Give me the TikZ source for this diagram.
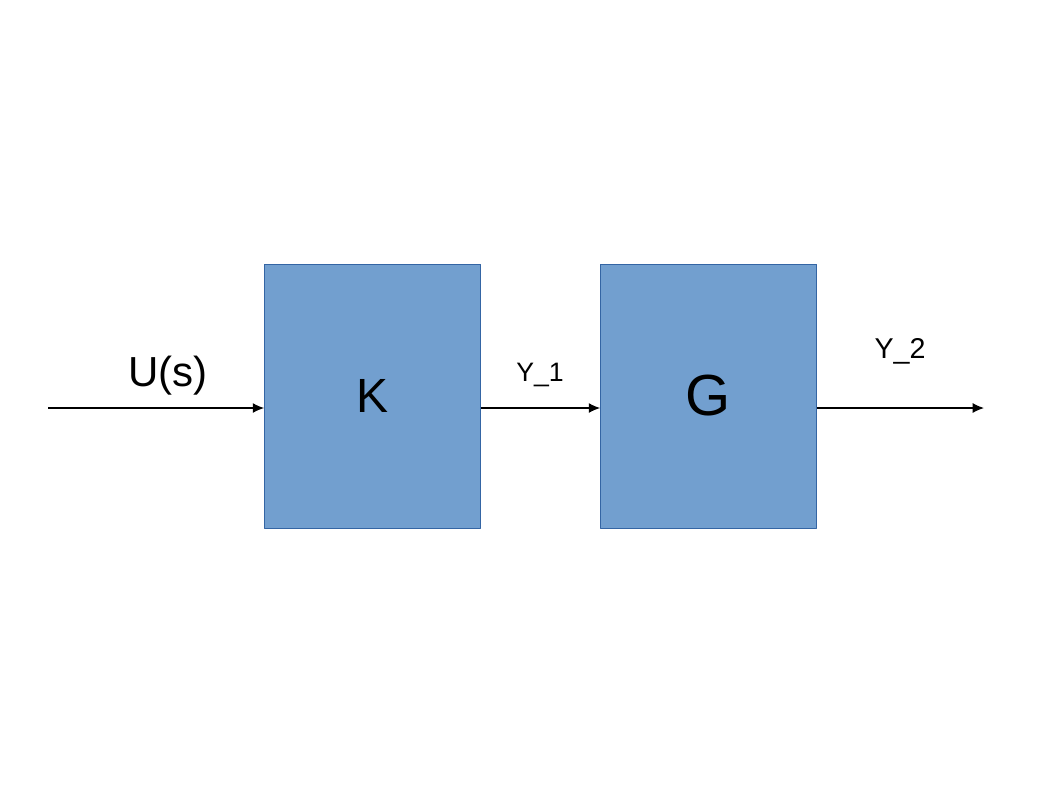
\documentclass[tikz,border=0pt]{standalone}
\usepackage{fontspec}
\usetikzlibrary{arrows.meta}
\setmainfont{Liberation Sans}
\definecolor{blockfill}{HTML}{729FCF}
\definecolor{blockline}{HTML}{3465A4}
\begin{document}
\begin{tikzpicture}[x=0.75pt, y=-0.75pt, line join=round, >={Latex[length=8.5pt,width=7.5pt]},
  block/.style={draw=blockline, fill=blockfill, line width=0.6pt, minimum width=162pt, minimum height=198pt, inner sep=0pt},
  sig/.style={->, line width=0.9pt}]
\useasboundingbox (0,0) rectangle (1058,794);
			\node[block, font=\fontsize{36}{40}\selectfont] (K) at (372.5,396) {K};
			\node[block, font=\fontsize{43.5}{48}\selectfont] (G) at (708.5,396) {G};
			\coordinate (in) at (48,408);
			\coordinate (out) at (984,408);
			\draw[sig] (in) -- (K.west |- in);
			\draw[sig] (K.east |- in) -- (G.west |- in);
			\draw[sig] (G.east |- in) -- (out);
			\node[font=\fontsize{31.5}{36}\selectfont] (u) at (168,376) {U(s)};
			\node[font=\fontsize{20}{24}\selectfont] (y1) at (540,375) {Y\_1};
			\node[font=\fontsize{21.5}{25}\selectfont] (y2) at (900,351) {Y\_2};
\end{tikzpicture}
\end{document}
